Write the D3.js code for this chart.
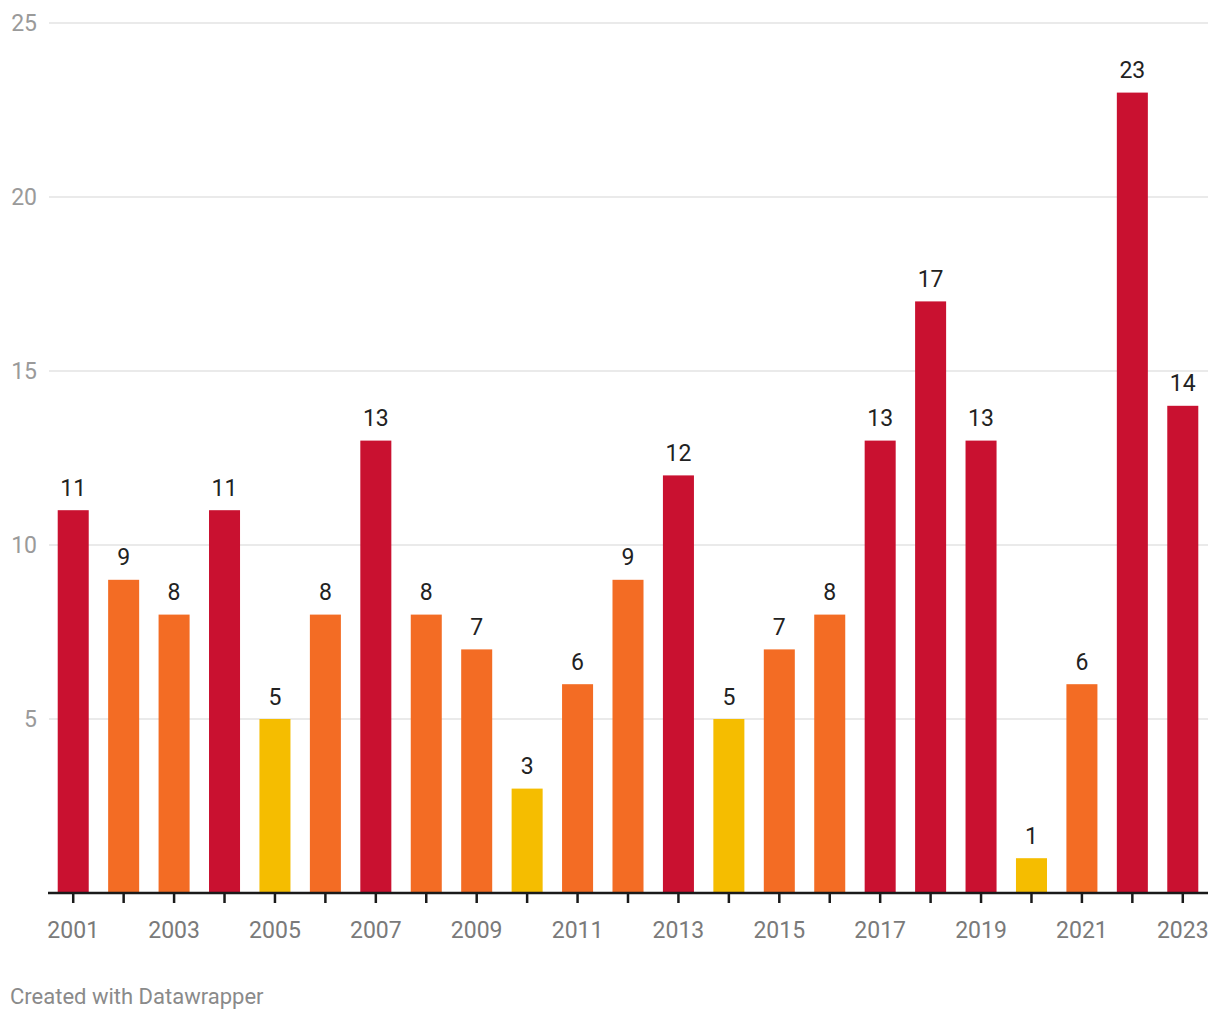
<!DOCTYPE html>
<html>
<head>
<meta charset="utf-8">
<script src="https://cdn.jsdelivr.net/npm/d3@7"></script>
<style>
  html, body { margin: 0; padding: 0; background: #fff; }
  svg { display: block; font-family: Roboto, "Noto Sans", sans-serif; }
</style>
</head>
<body>
<svg id="chart" width="1220" height="1020"></svg>
<script>
const years = ["2001","2002","2003","2004","2005","2006","2007","2008","2009","2010","2011","2012","2013","2014","2015","2016","2017","2018","2019","2020","2021","2022","2023"];
const values = [11, 9, 8, 11, 5, 8, 13, 8, 7, 3, 6, 9, 12, 5, 7, 8, 13, 17, 13, 1, 6, 23, 14];
const levels = ["high","mid","mid","high","low","mid","high","mid","mid","low","mid","mid","high","low","mid","mid","high","high","high","low","mid","high","high"];
const yTicks = [5, 10, 15, 20, 25];
const xTickLabels = ["2001","2003","2005","2007","2009","2011","2013","2015","2017","2019","2021","2023"];

const colorMap = { high: "#c91130", mid: "#f36c24", low: "#f5bd00" };

const svg = d3.select("#chart");
const x = d3.scaleBand().domain(years).range([48, 1208]).paddingInner(0.385).paddingOuter(0.1925);
const y = d3.scaleLinear().domain([0, 25]).range([893, 23]);

// gridlines
svg.append("g").selectAll("line").data(yTicks).join("line")
  .attr("x1", 49).attr("x2", 1208)
  .attr("y1", d => y(d)).attr("y2", d => y(d))
  .attr("stroke", "#e3e3e3").attr("stroke-width", 1.5);

// y labels
svg.append("g").selectAll("text").data(yTicks).join("text")
  .attr("x", 37).attr("y", d => y(d)).attr("dy", "0.36em")
  .attr("text-anchor", "end")
  .attr("fill", "#9a9a9a").attr("font-size", 23)
  .text(d => d);

// bars
svg.append("g").selectAll("rect").data(values).join("rect")
  .attr("x", (d, i) => x(years[i]))
  .attr("width", x.bandwidth())
  .attr("y", d => y(d))
  .attr("height", d => y(0) - y(d))
  .attr("fill", (d, i) => colorMap[levels[i]]);

// value labels
svg.append("g").selectAll("text").data(values).join("text")
  .attr("x", (d, i) => x(years[i]) + x.bandwidth() / 2)
  .attr("y", d => y(d) - 14.5)
  .attr("text-anchor", "middle")
  .attr("fill", "#222").attr("font-size", 23)
  .text(d => d);

// x axis
const xAxis = d3.axisBottom(x)
  .tickSize(10)
  .tickFormat(d => xTickLabels.includes(d) ? d : "");
const gx = svg.append("g").attr("transform", "translate(0,893)").call(xAxis);
gx.select(".domain").attr("stroke", "#1a1a1a").attr("stroke-width", 2.5).attr("d", "M48,0H1208");
gx.selectAll(".tick line").attr("stroke", "#1a1a1a").attr("stroke-width", 2.5);
gx.selectAll(".tick text")
  .attr("y", 45).attr("dy", "0")
  .attr("fill", "#7a7a7a").attr("font-size", 23)
  .attr("font-family", "Roboto, sans-serif");

// footer
svg.append("text")
  .attr("x", 10).attr("y", 1004)
  .attr("fill", "#8a8a8a").attr("font-size", 22)
  .text("Created with Datawrapper");
</script>
</body>
</html>
